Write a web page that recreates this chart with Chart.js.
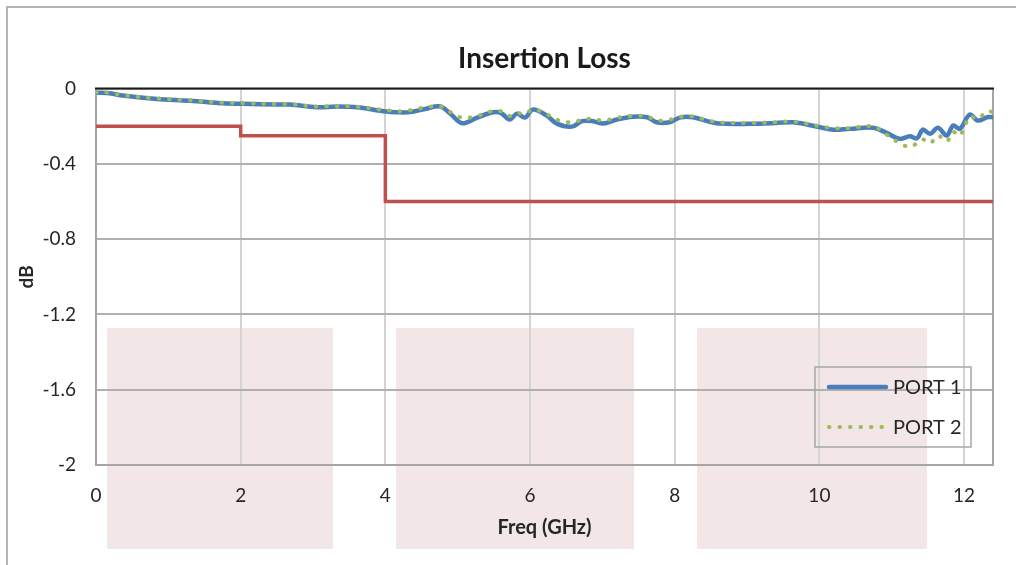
<!DOCTYPE html>
<html>
<head>
<meta charset="utf-8">
<script src="https://cdn.jsdelivr.net/npm/chart.js@4"></script>
<style>
  html, body { margin: 0; padding: 0; background: #fff; }
  #wrap { position: relative; width: 1016px; height: 565px; }
</style>
</head>
<body>
<div id="wrap"><canvas id="chart" width="1016" height="565"></canvas></div>
<script>
// frequency points (GHz)
const freqGHz = [0, 0.19, 0.37, 0.84, 1.30, 1.76, 2.03, 2.50, 2.68, 3.05, 3.33, 3.61, 3.97, 4.20, 4.34, 4.55,
  4.76, 4.90, 5.06, 5.27, 5.49, 5.60, 5.72, 5.82, 5.93, 6.04, 6.23, 6.37, 6.58, 6.72, 6.87, 7.01, 7.20,
  7.42, 7.62, 7.75, 7.93, 8.07, 8.25, 8.45, 8.63, 9.04, 9.40, 9.64, 10.01, 10.19, 10.42, 10.74, 10.93,
  11.11, 11.25, 11.35, 11.43, 11.53, 11.64, 11.76, 11.85, 11.94, 12.08, 12.19, 12.32, 12.40];
const port1 = [-0.022, -0.025, -0.037, -0.055, -0.064, -0.078, -0.081, -0.085, -0.085, -0.099, -0.095, -0.099,
  -0.120, -0.126, -0.125, -0.108, -0.095, -0.134, -0.184, -0.154, -0.126, -0.130, -0.164, -0.133, -0.154,
  -0.111, -0.143, -0.186, -0.202, -0.173, -0.173, -0.186, -0.164, -0.149, -0.152, -0.179, -0.179, -0.154,
  -0.152, -0.173, -0.186, -0.187, -0.183, -0.179, -0.205, -0.219, -0.214, -0.208, -0.235, -0.267, -0.253,
  -0.264, -0.218, -0.240, -0.208, -0.249, -0.196, -0.214, -0.138, -0.170, -0.152, -0.152];
const port2 = [-0.020, -0.022, -0.035, -0.052, -0.062, -0.075, -0.078, -0.082, -0.083, -0.095, -0.092, -0.096,
  -0.113, -0.120, -0.115, -0.100, -0.095, -0.125, -0.155, -0.145, -0.118, -0.120, -0.145, -0.130, -0.135,
  -0.110, -0.135, -0.165, -0.180, -0.165, -0.160, -0.170, -0.155, -0.145, -0.148, -0.170, -0.165, -0.150,
  -0.148, -0.168, -0.180, -0.183, -0.178, -0.175, -0.200, -0.210, -0.210, -0.200, -0.245, -0.290, -0.310,
  -0.290, -0.270, -0.290, -0.250, -0.280, -0.230, -0.250, -0.150, -0.160, -0.120, -0.125];
// spec limit (step)
const limitFreq = [0, 2, 4, 12.4];
const limitLoss = [-0.2, -0.25, -0.6, -0.6];
const yTicks = [0, -0.4, -0.8, -1.2, -1.6, -2];

const toXY = (xs, ys) => xs.map((x, i) => ({ x: x, y: ys[i] }));
const FONT = 'Lato, "Liberation Sans", sans-serif';

const framePlugin = {
  id: 'frame',
  beforeDraw(chart) {
    const c = chart.ctx;
    c.save();
    c.fillStyle = '#fff';
    c.fillRect(0, 0, chart.width, chart.height);
    // background blocks
    c.fillStyle = '#f3e6e6';
    [[107, 226], [396, 238], [697, 230]].forEach(([x, w]) => c.fillRect(x, 328, w, 221));
    // outer frame
    c.strokeStyle = '#b4b4b4';
    c.lineWidth = 2;
    c.beginPath();
    c.moveTo(7, chart.height);
    c.lineTo(7, 7);
    c.lineTo(chart.width, 7);
    c.stroke();
    c.restore();
  },
  beforeDatasetsDraw(chart) {
    const c = chart.ctx, a = chart.chartArea;
    c.save();
    c.strokeStyle = '#a6a6a6';
    c.lineWidth = 2;
    c.beginPath();
    c.moveTo(a.right, a.top);
    c.lineTo(a.right, a.bottom);
    c.stroke();
    c.strokeStyle = '#1a1a1a';
    c.beginPath();
    c.moveTo(a.left - 1, a.top);
    c.lineTo(a.right + 1, a.top);
    c.stroke();
    c.restore();
  },
  afterDraw(chart) {
    const c = chart.ctx;
    c.save();
    c.strokeStyle = '#a6a6a6';
    c.lineWidth = 1.5;
    c.strokeRect(815, 367, 156, 80);
    const items = chart.data.datasets.filter(d => d.label);
    const order = ['PORT 1', 'PORT 2'];
    order.forEach((name, i) => {
      const ds = items.find(d => d.label === name);
      const y = 387 + i * 40;
      c.strokeStyle = ds.borderColor;
      c.lineWidth = ds.borderWidth;
      c.lineCap = ds.borderCapStyle || 'butt';
      c.setLineDash(ds.borderDash || []);
      c.beginPath();
      c.moveTo(829, y);
      c.lineTo(886, y);
      c.stroke();
      c.setLineDash([]);
      c.fillStyle = '#262626';
      c.font = '20px ' + FONT;
      c.textBaseline = 'middle';
      c.fillText(name, 893, y + 1);
    });
    c.restore();
  }
};

new Chart(document.getElementById('chart'), {
  type: 'scatter',
  data: {
    datasets: [
      {
        label: 'PORT 2',
        data: toXY(freqGHz, port2),
        showLine: true,
        borderColor: '#9bbb59',
        borderWidth: 4,
        borderDash: [0.5, 10],
        borderCapStyle: 'round',
        pointRadius: 0,
        tension: 0.35
      },
      {
        label: 'PORT 1',
        data: toXY(freqGHz, port1),
        showLine: true,
        borderColor: '#4a7ebb',
        borderWidth: 4.5,
        borderCapStyle: 'round',
        pointRadius: 0,
        tension: 0.35
      },
      {
        label: '',
        data: toXY(limitFreq, limitLoss),
        showLine: true,
        stepped: 'before',
        borderColor: '#c0504d',
        borderWidth: 3.5,
        pointRadius: 0
      }
    ]
  },
  plugins: [framePlugin],
  options: {
    responsive: false,
    animation: false,
    layout: { padding: { left: 0, right: 23, top: 0, bottom: 0 } },
    plugins: {
      legend: { display: false },
      tooltip: { enabled: false },
      title: {
        display: true,
        text: 'Insertion Loss',
        fullSize: false,
        color: '#1a1a1a',
        font: { family: FONT, size: 28, weight: 'bold' },
        padding: { top: 42, bottom: 13 }
      }
    },
    scales: {
      x: {
        type: 'linear',
        min: 0,
        max: 12.4,
        afterFit(s) { s.height = 100; },
        grid: { color: '#d4d4d4', lineWidth: 2, drawTicks: false },
        border: { color: '#a6a6a6', width: 2 },
        ticks: {
          stepSize: 2,
          includeBounds: false,
          padding: 19,
          color: '#262626',
          font: { family: FONT, size: 19 }
        },
        title: {
          display: true,
          text: 'Freq (GHz)',
          color: '#262626',
          font: { family: FONT, size: 20, weight: 'bold' },
          padding: { top: 0, bottom: 25 }
        }
      },
      y: {
        type: 'linear',
        min: -2,
        max: 0,
        afterFit(s) { s.width = 96; },
        afterBuildTicks(s) { s.ticks = yTicks.map(v => ({ value: v })); },
        grid: { color: '#b0b0b0', lineWidth: 2, drawTicks: false },
        border: { color: '#a6a6a6', width: 2 },
        ticks: {
          padding: 20,
          color: '#262626',
          font: { family: FONT, size: 19 },
          callback: v => String(+v.toFixed(1))
        },
        title: {
          display: true,
          text: 'dB',
          color: '#262626',
          font: { family: FONT, size: 19, weight: 'bold' },
          padding: { top: 15, bottom: 0 }
        }
      }
    }
  }
});
</script>
</body>
</html>
